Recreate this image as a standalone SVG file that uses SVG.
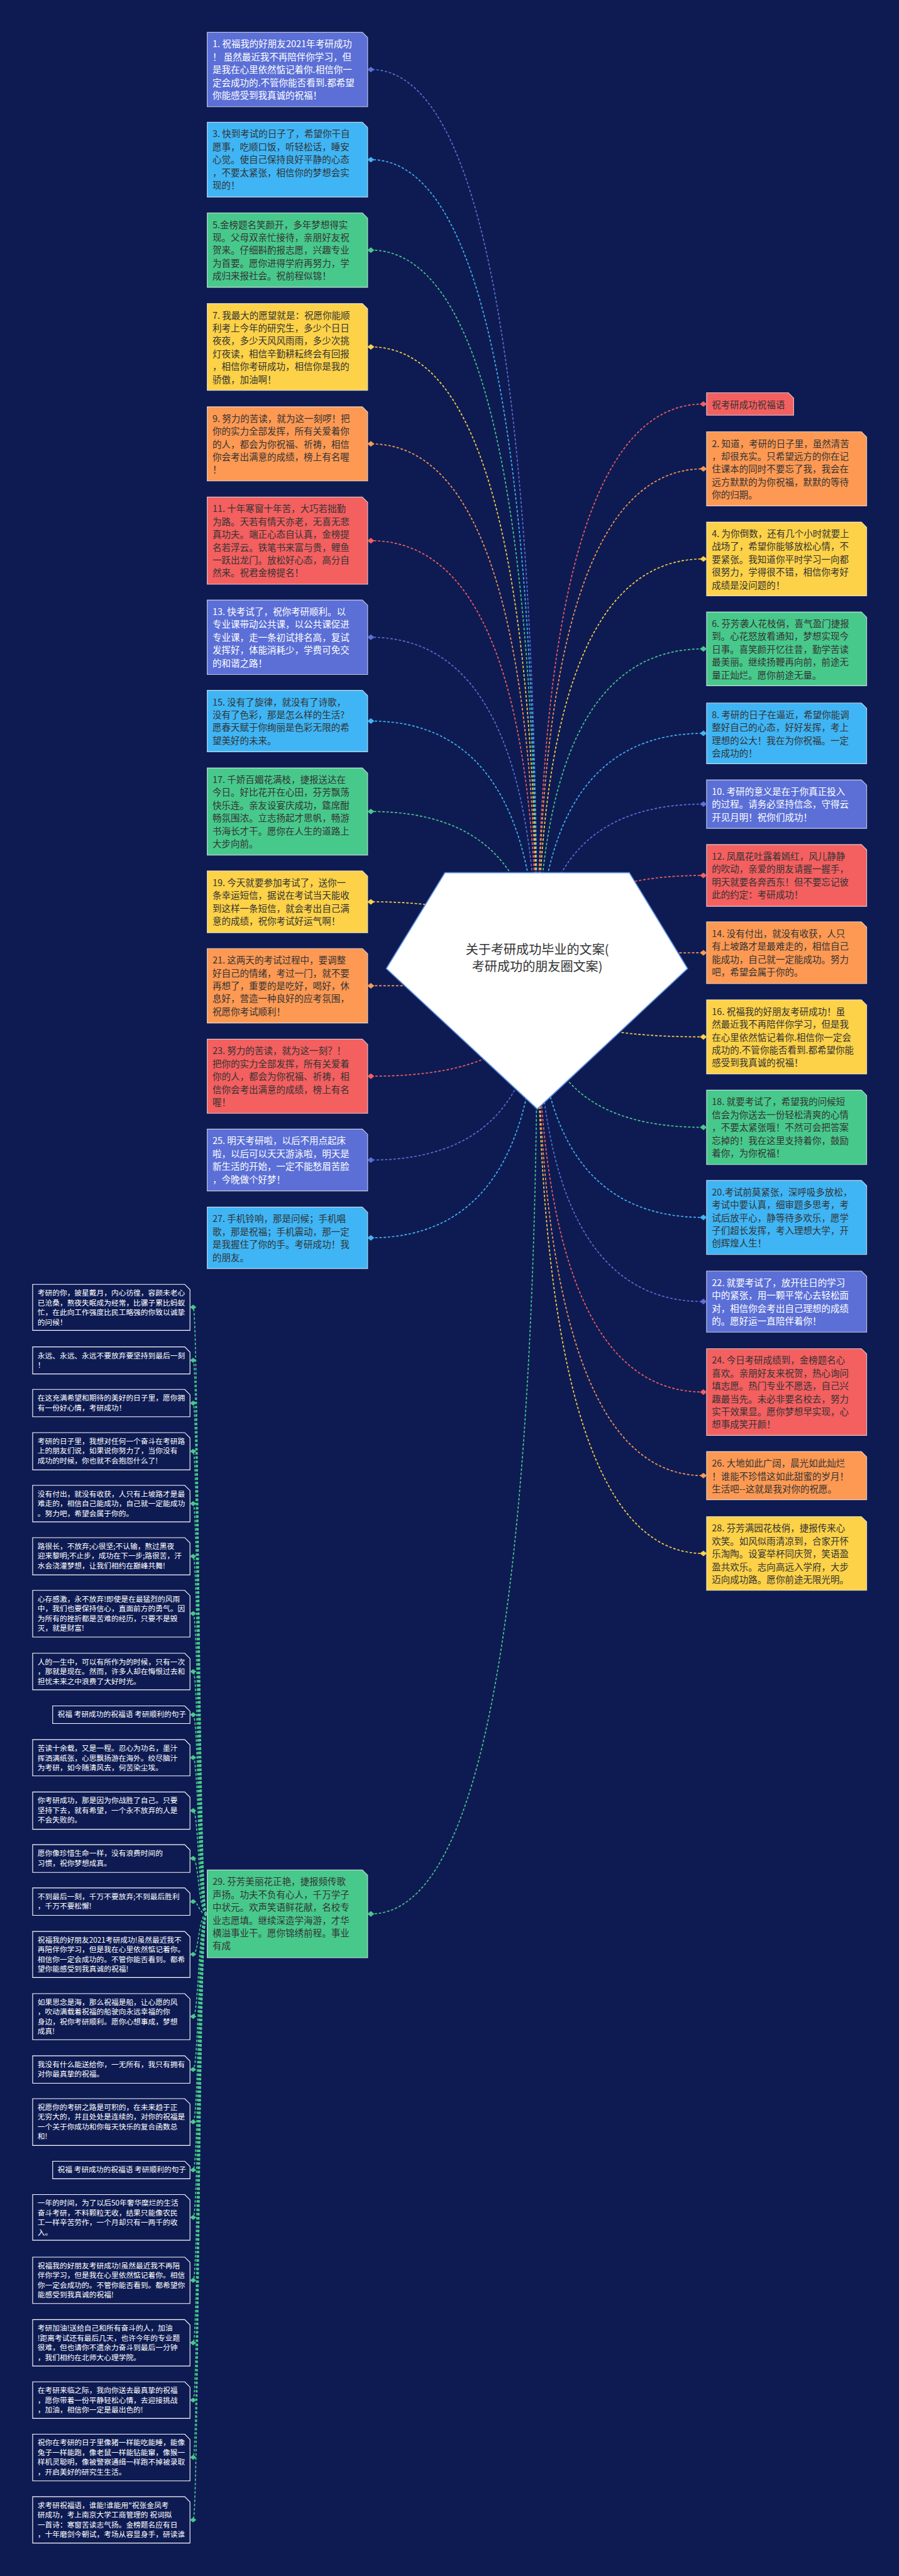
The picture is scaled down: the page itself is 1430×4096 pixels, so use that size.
<svg xmlns="http://www.w3.org/2000/svg" width="1430" height="4096" viewBox="0 0 1430 4096">
<style>
.t{font-family:"Noto Sans CJK SC","Noto Sans CJK JP",sans-serif;font-size:26px}
.s{font-family:"Noto Sans CJK SC","Noto Sans CJK JP",sans-serif;font-size:21px;fill:#fff}
.w{fill:#fff}.d{fill:#333}
.c{fill:none;stroke-width:3;stroke-dasharray:7 5}
.bx{stroke:#fff;stroke-opacity:.7;stroke-width:2}
.lb{fill:#0e1b52;stroke:#fff;stroke-width:2}
.I{fill:#5b6fd6}.C{fill:#3fb5f5}.G{fill:#48c98c}.Y{fill:#fdd248}.O{fill:#fd9953}.R{fill:#f45f60}
.cI{stroke:#5b6fd6}.cC{stroke:#3fb5f5}.cG{stroke:#48c98c}.cY{stroke:#fdd248}.cO{stroke:#fd9953}.cR{stroke:#f45f60}
</style>
<defs>
<path id="dm" d="M-10 0L0-8L10 0L0 8Z"/>
<path id="ds" d="M-9 0L0-7L9 0L0 7Z"/>
</defs>
<rect width="1430" height="4096" fill="#0e1b52"/>
<g transform="scale(0.55859375)">
<g id="connectors">
<path class="c cI" d="M1530 2801Q1530 198 1056 198"/>
<path class="c cC" d="M1530 2801Q1530 454.5 1056 454.5"/>
<path class="c cG" d="M1530 2801Q1530 712 1056 712"/>
<path class="c cY" d="M1530 2801Q1530 987.5 1056 987.5"/>
<path class="c cO" d="M1530 2801Q1530 1263.5 1056 1263.5"/>
<path class="c cR" d="M1530 2801Q1530 1539 1056 1539"/>
<path class="c cI" d="M1530 2801Q1530 1814 1056 1814"/>
<path class="c cC" d="M1530 2801Q1530 2052.5 1056 2052.5"/>
<path class="c cG" d="M1530 2801Q1530 2310 1056 2310"/>
<path class="c cY" d="M1530 2801Q1530 2567 1056 2567"/>
<path class="c cO" d="M1530 2801Q1530 2806 1056 2806"/>
<path class="c cR" d="M1530 2801Q1530 3063.5 1056 3063.5"/>
<path class="c cI" d="M1530 2801Q1530 3302 1056 3302"/>
<path class="c cC" d="M1530 2801Q1530 3523.5 1056 3523.5"/>
<path class="c cG" d="M1530 2801Q1530 5448 1056 5448"/>
<path class="c cR" d="M1530 2801Q1530 1150 2003 1150"/>
<path class="c cO" d="M1530 2801Q1530 1334.5 2003 1334.5"/>
<path class="c cY" d="M1530 2801Q1530 1591 2003 1591"/>
<path class="c cG" d="M1530 2801Q1530 1847 2003 1847"/>
<path class="c cC" d="M1530 2801Q1530 2087.5 2003 2087.5"/>
<path class="c cI" d="M1530 2801Q1530 2289 2003 2289"/>
<path class="c cR" d="M1530 2801Q1530 2492 2003 2492"/>
<path class="c cO" d="M1530 2801Q1530 2712 2003 2712"/>
<path class="c cY" d="M1530 2801Q1530 2951.5 2003 2951.5"/>
<path class="c cG" d="M1530 2801Q1530 3209 2003 3209"/>
<path class="c cC" d="M1530 2801Q1530 3465.5 2003 3465.5"/>
<path class="c cI" d="M1530 2801Q1530 3705 2003 3705"/>
<path class="c cR" d="M1530 2801Q1530 3962.5 2003 3962.5"/>
<path class="c cO" d="M1530 2801Q1530 4200.5 2003 4200.5"/>
<path class="c cY" d="M1530 2801Q1530 4422 2003 4422"/>
<g class="c cG">
<path d="M588 5448C566 5448 566 3721 550 3721"/>
<path d="M588 5448C566 5448 566 3872 550 3872"/>
<path d="M588 5448C566 5448 566 3994 550 3994"/>
<path d="M588 5448C566 5448 566 4131 550 4131"/>
<path d="M588 5448C566 5448 566 4280 550 4280"/>
<path d="M588 5448C566 5448 566 4430 550 4430"/>
<path d="M588 5448C566 5448 566 4593 550 4593"/>
<path d="M588 5448C566 5448 566 4758 550 4758"/>
<path d="M588 5448C566 5448 566 4881 550 4881"/>
<path d="M588 5448C566 5448 566 5003 550 5003"/>
<path d="M588 5448C566 5448 566 5154 550 5154"/>
<path d="M588 5448C566 5448 566 5290 550 5290"/>
<path d="M588 5448C566 5448 566 5413 550 5413"/>
<path d="M588 5448C566 5448 566 5563 550 5563"/>
<path d="M588 5448C566 5448 566 5740 550 5740"/>
<path d="M588 5448C566 5448 566 5891 550 5891"/>
<path d="M588 5448C566 5448 566 6040 550 6040"/>
<path d="M588 5448C566 5448 566 6177 550 6177"/>
<path d="M588 5448C566 5448 566 6312 550 6312"/>
<path d="M588 5448C566 5448 566 6491 550 6491"/>
<path d="M588 5448C566 5448 566 6669 550 6669"/>
<path d="M588 5448C566 5448 566 6832 550 6832"/>
<path d="M588 5448C566 5448 566 6995 550 6995"/>
<path d="M588 5448C566 5448 566 7173 550 7173"/>
</g>
</g>

<g id="center">
<path d="M1267 2484H1792L1958 2757L1530 3157L1100 2757Z" fill="#fff" stroke="#5b8fe0" stroke-width="3"/>
<text x="1530" y="2715" text-anchor="middle" font-family="Noto Sans CJK SC,sans-serif" font-size="36" fill="#333">关于考研成功毕业的文案(</text>
<text x="1530" y="2764" text-anchor="middle" font-family="Noto Sans CJK SC,sans-serif" font-size="36" fill="#333">考研成功的朋友圈文案)</text>
</g>

<!-- left column -->
<g id="n1"><path class="bx I" d="M590 92H1032L1047 107V304H590Z"/><use href="#dm" x="1056" y="198" class="I"/>
<text class="t w"><tspan x="605" y="135">1. 祝福我的好朋友2021年考研成功</tspan><tspan x="605" dy="36.5">！ 虽然最近我不再陪伴你学习，但</tspan><tspan x="605" dy="36.5">是我在心里依然惦记着你.相信你一</tspan><tspan x="605" dy="36.5">定会成功的.不管你能否看到.都希望</tspan><tspan x="605" dy="36.5">你能感受到我真诚的祝福！</tspan></text></g>
<g id="n3"><path class="bx C" d="M590 348H1032L1047 363V561H590Z"/><use href="#dm" x="1056" y="454.5" class="C"/>
<text class="t d"><tspan x="605" y="391">3. 快到考试的日子了，希望你干自</tspan><tspan x="605" dy="36.5">愿事，吃顺口饭，听轻松话，睡安</tspan><tspan x="605" dy="36.5">心觉。使自己保持良好平静的心态</tspan><tspan x="605" dy="36.5">，不要太紧张，相信你的梦想会实</tspan><tspan x="605" dy="36.5">现的！</tspan></text></g>
<g id="n5"><path class="bx G" d="M590 606H1032L1047 621V818H590Z"/><use href="#dm" x="1056" y="712" class="G"/>
<text class="t d"><tspan x="605" y="649">5.金榜题名笑颜开，多年梦想得实</tspan><tspan x="605" dy="36.5">现。父母双亲忙接待，亲朋好友祝</tspan><tspan x="605" dy="36.5">贺来。仔细斟酌报志愿，兴趣专业</tspan><tspan x="605" dy="36.5">为首要。愿你进得学府再努力，学</tspan><tspan x="605" dy="36.5">成归来报社会。祝前程似锦！</tspan></text></g>
<g id="n7"><path class="bx Y" d="M590 864H1032L1047 879V1111H590Z"/><use href="#dm" x="1056" y="987.5" class="Y"/>
<text class="t d"><tspan x="605" y="907">7. 我最大的愿望就是：祝愿你能顺</tspan><tspan x="605" dy="36.5">利考上今年的研究生，多少个日日</tspan><tspan x="605" dy="36.5">夜夜，多少天风风雨雨，多少次挑</tspan><tspan x="605" dy="36.5">灯夜读，相信辛勤耕耘终会有回报</tspan><tspan x="605" dy="36.5">，相信你考研成功，相信你是我的</tspan><tspan x="605" dy="36.5">骄傲，加油啊！</tspan></text></g>
<g id="n9"><path class="bx O" d="M590 1158H1032L1047 1173V1369H590Z"/><use href="#dm" x="1056" y="1263.5" class="O"/>
<text class="t d"><tspan x="605" y="1201">9. 努力的苦读，就为这一刻啰！把</tspan><tspan x="605" dy="36.5">你的实力全部发挥，所有关爱着你</tspan><tspan x="605" dy="36.5">的人，都会为你祝福、祈祷，相信</tspan><tspan x="605" dy="36.5">你会考出满意的成绩，榜上有名喔</tspan><tspan x="605" dy="36.5">！</tspan></text></g>
<g id="n11"><path class="bx R" d="M590 1415H1032L1047 1430V1663H590Z"/><use href="#dm" x="1056" y="1539" class="R"/>
<text class="t d"><tspan x="605" y="1458">11. 十年寒窗十年苦，大巧若拙勤</tspan><tspan x="605" dy="36.5">为路。天若有情天亦老，无喜无悲</tspan><tspan x="605" dy="36.5">真功夫。端正心态自认真，金榜提</tspan><tspan x="605" dy="36.5">名若浮云。铁笔书来富与贵，鲤鱼</tspan><tspan x="605" dy="36.5">一跃出龙门。放松好心态，高分自</tspan><tspan x="605" dy="36.5">然来。祝君金榜提名！</tspan></text></g>
<g id="n13"><path class="bx I" d="M590 1708H1032L1047 1723V1920H590Z"/><use href="#dm" x="1056" y="1814" class="I"/>
<text class="t w"><tspan x="605" y="1751">13. 快考试了，祝你考研顺利。以</tspan><tspan x="605" dy="36.5">专业课带动公共课，以公共课促进</tspan><tspan x="605" dy="36.5">专业课，走一条初试排名高，复试</tspan><tspan x="605" dy="36.5">发挥好，体能消耗少，学费可免交</tspan><tspan x="605" dy="36.5">的和谐之路！</tspan></text></g>
<g id="n15"><path class="bx C" d="M590 1965H1032L1047 1980V2140H590Z"/><use href="#dm" x="1056" y="2052.5" class="C"/>
<text class="t d"><tspan x="605" y="2008">15. 没有了旋律，就没有了诗歌，</tspan><tspan x="605" dy="36.5">没有了色彩，那是怎么样的生活?</tspan><tspan x="605" dy="36.5">愿春天赋于你绚丽是色彩无限的希</tspan><tspan x="605" dy="36.5">望美好的未来。</tspan></text></g>
<g id="n17"><path class="bx G" d="M590 2186H1032L1047 2201V2434H590Z"/><use href="#dm" x="1056" y="2310" class="G"/>
<text class="t d"><tspan x="605" y="2229">17. 千娇百媚花满枝，捷报送达在</tspan><tspan x="605" dy="36.5">今日。好比花开在心田，芬芳飘荡</tspan><tspan x="605" dy="36.5">快乐连。亲友设宴庆成功，筵席酣</tspan><tspan x="605" dy="36.5">畅氛围浓。立志扬起才思帆，畅游</tspan><tspan x="605" dy="36.5">书海长才干。愿你在人生的道路上</tspan><tspan x="605" dy="36.5">大步向前。</tspan></text></g>
<g id="n19"><path class="bx Y" d="M590 2479H1032L1047 2494V2655H590Z"/><use href="#dm" x="1056" y="2567" class="Y"/>
<text class="t d"><tspan x="605" y="2522">19. 今天就要参加考试了，送你一</tspan><tspan x="605" dy="36.5">条幸运短信，据说在考试当天能收</tspan><tspan x="605" dy="36.5">到这样一条短信，就会考出自己满</tspan><tspan x="605" dy="36.5">意的成绩，祝你考试好运气啊！</tspan></text></g>
<g id="n21"><path class="bx O" d="M590 2700H1032L1047 2715V2912H590Z"/><use href="#dm" x="1056" y="2806" class="O"/>
<text class="t d"><tspan x="605" y="2743">21. 这两天的考试过程中，要调整</tspan><tspan x="605" dy="36.5">好自己的情绪，考过一门，就不要</tspan><tspan x="605" dy="36.5">再想了，重要的是吃好，喝好，休</tspan><tspan x="605" dy="36.5">息好，营造一种良好的应考氛围，</tspan><tspan x="605" dy="36.5">祝愿你考试顺利！</tspan></text></g>
<g id="n23"><path class="bx R" d="M590 2958H1032L1047 2973V3169H590Z"/><use href="#dm" x="1056" y="3063.5" class="R"/>
<text class="t d"><tspan x="605" y="3001">23. 努力的苦读，就为这一刻？！</tspan><tspan x="605" dy="36.5">把你的实力全部发挥，所有关爱着</tspan><tspan x="605" dy="36.5">你的人，都会为你祝福、祈祷，相</tspan><tspan x="605" dy="36.5">信你会考出满意的成绩，榜上有名</tspan><tspan x="605" dy="36.5">喔！</tspan></text></g>
<g id="n25"><path class="bx I" d="M590 3214H1032L1047 3229V3390H590Z"/><use href="#dm" x="1056" y="3302" class="I"/>
<text class="t w"><tspan x="605" y="3257">25. 明天考研啦，以后不用点起床</tspan><tspan x="605" dy="36.5">啦，以后可以天天游泳啦，明天是</tspan><tspan x="605" dy="36.5">新生活的开始，一定不能愁眉苦脸</tspan><tspan x="605" dy="36.5">，今晚做个好梦！</tspan></text></g>
<g id="n27"><path class="bx C" d="M590 3436H1032L1047 3451V3611H590Z"/><use href="#dm" x="1056" y="3523.5" class="C"/>
<text class="t d"><tspan x="605" y="3479">27. 手机铃响，那是问候；手机唱</tspan><tspan x="605" dy="36.5">歌，那是祝福；手机震动，那一定</tspan><tspan x="605" dy="36.5">是我握住了你的手。考研成功！我</tspan><tspan x="605" dy="36.5">的朋友。</tspan></text></g>
<g id="n29"><path class="bx G" d="M590 5323H1032L1047 5338V5573H590Z"/><use href="#dm" x="1056" y="5448" class="G"/>
<path d="M584 5448H590" stroke="#48c98c" stroke-width="3"/>
<text class="t d"><tspan x="605" y="5366">29. 芬芳美丽花正艳，捷报频传歌</tspan><tspan x="605" dy="36.5">声扬。功夫不负有心人，千万学子</tspan><tspan x="605" dy="36.5">中状元。欢声笑语鲜花献，名校专</tspan><tspan x="605" dy="36.5">业志愿填。继续深造学海游，才华</tspan><tspan x="605" dy="36.5">横溢事业干。愿你锦绣前程。事业</tspan><tspan x="605" dy="36.5">有成</tspan></text></g>

<!-- right column -->
<g id="n0"><path class="bx R" d="M2012 1118H2245L2260 1133V1182H2012Z"/><use href="#dm" x="2003" y="1150" class="R"/>
<text class="t d" x="2027" y="1161">祝考研成功祝福语</text></g>
<g id="n2"><path class="bx O" d="M2012 1229H2453L2468 1244V1440H2012Z"/><use href="#dm" x="2003" y="1334.5" class="O"/>
<text class="t d"><tspan x="2027" y="1272">2. 知道，考研的日子里，虽然清苦</tspan><tspan x="2027" dy="36.5">，却很充实。只希望远方的你在记</tspan><tspan x="2027" dy="36.5">住课本的同时不要忘了我，我会在</tspan><tspan x="2027" dy="36.5">远方默默的为你祝福，默默的等待</tspan><tspan x="2027" dy="36.5">你的归期。</tspan></text></g>
<g id="n4"><path class="bx Y" d="M2012 1486H2453L2468 1501V1696H2012Z"/><use href="#dm" x="2003" y="1591" class="Y"/>
<text class="t d"><tspan x="2027" y="1529">4. 为你倒数，还有几个小时就要上</tspan><tspan x="2027" dy="36.5">战场了，希望你能够放松心情，不</tspan><tspan x="2027" dy="36.5">要紧张。我知道你平时学习一向都</tspan><tspan x="2027" dy="36.5">很努力，学得很不错，相信你考好</tspan><tspan x="2027" dy="36.5">成绩是没问题的！</tspan></text></g>
<g id="n6"><path class="bx G" d="M2012 1742H2453L2468 1757V1952H2012Z"/><use href="#dm" x="2003" y="1847" class="G"/>
<text class="t d"><tspan x="2027" y="1785">6. 芬芳袭人花枝俏，喜气盈门捷报</tspan><tspan x="2027" dy="36.5">到。心花怒放看通知，梦想实现今</tspan><tspan x="2027" dy="36.5">日事。喜笑颜开忆往昔，勤学苦读</tspan><tspan x="2027" dy="36.5">最美丽。继续扬鞭再向前，前途无</tspan><tspan x="2027" dy="36.5">量正灿烂。愿你前途无量。</tspan></text></g>
<g id="n8"><path class="bx C" d="M2012 2001H2453L2468 2016V2174H2012Z"/><use href="#dm" x="2003" y="2087.5" class="C"/>
<text class="t d"><tspan x="2027" y="2044">8. 考研的日子在逼近，希望你能调</tspan><tspan x="2027" dy="36.5">整好自己的心态，好好发挥，考上</tspan><tspan x="2027" dy="36.5">理想的公大！我在为你祝福。一定</tspan><tspan x="2027" dy="36.5">会成功的！</tspan></text></g>
<g id="n10"><path class="bx I" d="M2012 2220H2453L2468 2235V2358H2012Z"/><use href="#dm" x="2003" y="2289" class="I"/>
<text class="t w"><tspan x="2027" y="2263">10. 考研的意义是在于你真正投入</tspan><tspan x="2027" dy="36.5">的过程。请务必坚持信念，守得云</tspan><tspan x="2027" dy="36.5">开见月明！祝你们成功！</tspan></text></g>
<g id="n12"><path class="bx R" d="M2012 2404H2453L2468 2419V2580H2012Z"/><use href="#dm" x="2003" y="2492" class="R"/>
<text class="t d"><tspan x="2027" y="2447">12. 凤凰花吐露着嫣红，风儿静静</tspan><tspan x="2027" dy="36.5">的吹动，亲爱的朋友请握一握手，</tspan><tspan x="2027" dy="36.5">明天就要各奔西东！但不要忘记彼</tspan><tspan x="2027" dy="36.5">此的约定：考研成功！</tspan></text></g>
<g id="n14"><path class="bx O" d="M2012 2624H2453L2468 2639V2800H2012Z"/><use href="#dm" x="2003" y="2712" class="O"/>
<text class="t d"><tspan x="2027" y="2667">14. 没有付出，就没有收获，人只</tspan><tspan x="2027" dy="36.5">有上坡路才是最难走的，相信自己</tspan><tspan x="2027" dy="36.5">能成功，自己就一定能成功。努力</tspan><tspan x="2027" dy="36.5">吧，希望会属于你的。</tspan></text></g>
<g id="n16"><path class="bx Y" d="M2012 2846H2453L2468 2861V3057H2012Z"/><use href="#dm" x="2003" y="2951.5" class="Y"/>
<text class="t d"><tspan x="2027" y="2889">16. 祝福我的好朋友考研成功！虽</tspan><tspan x="2027" dy="36.5">然最近我不再陪伴你学习，但是我</tspan><tspan x="2027" dy="36.5">在心里依然惦记着你.相信你一定会</tspan><tspan x="2027" dy="36.5">成功的.不管你能否看到.都希望你能</tspan><tspan x="2027" dy="36.5">感受到我真诚的祝福！</tspan></text></g>
<g id="n18"><path class="bx G" d="M2012 3103H2453L2468 3118V3315H2012Z"/><use href="#dm" x="2003" y="3209" class="G"/>
<text class="t d"><tspan x="2027" y="3146">18. 就要考试了，希望我的问候短</tspan><tspan x="2027" dy="36.5">信会为你送去一份轻松清爽的心情</tspan><tspan x="2027" dy="36.5">，不要太紧张哦！不然可会把答案</tspan><tspan x="2027" dy="36.5">忘掉的！我在这里支持着你，鼓励</tspan><tspan x="2027" dy="36.5">着你，为你祝福！</tspan></text></g>
<g id="n20"><path class="bx C" d="M2012 3360H2453L2468 3375V3571H2012Z"/><use href="#dm" x="2003" y="3465.5" class="C"/>
<text class="t d"><tspan x="2027" y="3403">20.考试前莫紧张，深呼吸多放松，</tspan><tspan x="2027" dy="36.5">考试中要认真，细审题多思考，考</tspan><tspan x="2027" dy="36.5">试后放平心，静等待多欢乐，愿学</tspan><tspan x="2027" dy="36.5">子们超长发挥，考入理想大学，开</tspan><tspan x="2027" dy="36.5">创辉煌人生！</tspan></text></g>
<g id="n22"><path class="bx I" d="M2012 3618H2453L2468 3633V3792H2012Z"/><use href="#dm" x="2003" y="3705" class="I"/>
<text class="t w"><tspan x="2027" y="3661">22. 就要考试了，放开往日的学习</tspan><tspan x="2027" dy="36.5">中的紧张，用一颗平常心去轻松面</tspan><tspan x="2027" dy="36.5">对，相信你会考出自己理想的成绩</tspan><tspan x="2027" dy="36.5">的。愿好运一直陪伴着你！</tspan></text></g>
<g id="n24"><path class="bx R" d="M2012 3839H2453L2468 3854V4086H2012Z"/><use href="#dm" x="2003" y="3962.5" class="R"/>
<text class="t d"><tspan x="2027" y="3882">24. 今日考研成绩到，金榜题名心</tspan><tspan x="2027" dy="36.5">喜欢。亲朋好友来祝贺，热心询问</tspan><tspan x="2027" dy="36.5">填志愿。热门专业不愿选，自己兴</tspan><tspan x="2027" dy="36.5">趣最当先。未必非要名校去，努力</tspan><tspan x="2027" dy="36.5">实干效果显。愿你梦想早实现，心</tspan><tspan x="2027" dy="36.5">想事成笑开颜！</tspan></text></g>
<g id="n26"><path class="bx O" d="M2012 4132H2453L2468 4147V4269H2012Z"/><use href="#dm" x="2003" y="4200.5" class="O"/>
<text class="t d"><tspan x="2027" y="4175">26. 大地如此广阔，晨光如此灿烂</tspan><tspan x="2027" dy="36.5">！谁能不珍惜这如此甜蜜的岁月！</tspan><tspan x="2027" dy="36.5">生活吧--这就是我对你的祝愿。</tspan></text></g>
<g id="n28"><path class="bx Y" d="M2012 4317H2453L2468 4332V4527H2012Z"/><use href="#dm" x="2003" y="4422" class="Y"/>
<text class="t d"><tspan x="2027" y="4360">28. 芬芳满园花枝俏，捷报传来心</tspan><tspan x="2027" dy="36.5">欢笑。如风似雨清凉到，合家开怀</tspan><tspan x="2027" dy="36.5">乐淘陶。设宴举杯同庆贺，笑语盈</tspan><tspan x="2027" dy="36.5">盈共欢乐。志向高远入学府，大步</tspan><tspan x="2027" dy="36.5">迈向成功路。愿你前途无限光明。</tspan></text></g>

<!-- children of 29 -->
<g id="b1"><path class="lb" d="M93 3656H526L541 3671V3787H93Z"/><use href="#ds" x="550" y="3721" class="G"/>
<text class="s"><tspan x="107" y="3688">考研的你，披星戴月，内心彷徨，容颜未老心</tspan><tspan x="107" dy="27.7">已沧桑，熬夜失眠成为经常，比骡子累比蚂蚁</tspan><tspan x="107" dy="27.7">忙，在此向工作强度比民工略强的你致以诚挚</tspan><tspan x="107" dy="27.7">的问候！</tspan></text></g>
<g id="b2"><path class="lb" d="M93 3834H526L541 3849V3911H93Z"/><use href="#ds" x="550" y="3872" class="G"/>
<text class="s"><tspan x="107" y="3866">永远、永远、永远不要放弃要坚持到最后一刻</tspan><tspan x="107" dy="27.7">！</tspan></text></g>
<g id="b3"><path class="lb" d="M93 3955H526L541 3970V4033H93Z"/><use href="#ds" x="550" y="3994" class="G"/>
<text class="s"><tspan x="107" y="3987">在这充满希望和期待的美好的日子里，愿你拥</tspan><tspan x="107" dy="27.7">有一份好心情，考研成功！</tspan></text></g>
<g id="b4"><path class="lb" d="M93 4078H526L541 4093V4184H93Z"/><use href="#ds" x="550" y="4131" class="G"/>
<text class="s"><tspan x="107" y="4110">考研的日子里，我想对任何一个奋斗在考研路</tspan><tspan x="107" dy="27.7">上的朋友们说，如果说你努力了，当你没有</tspan><tspan x="107" dy="27.7">成功的时候，你也就不会抱怨什么了!</tspan></text></g>
<g id="b5"><path class="lb" d="M93 4228H526L541 4243V4332H93Z"/><use href="#ds" x="550" y="4280" class="G"/>
<text class="s"><tspan x="107" y="4260">没有付出，就没有收获，人只有上坡路才是最</tspan><tspan x="107" dy="27.7">难走的，相信自己能成功，自己就一定能成功</tspan><tspan x="107" dy="27.7">。努力吧，希望会属于你的。</tspan></text></g>
<g id="b6"><path class="lb" d="M93 4377H526L541 4392V4483H93Z"/><use href="#ds" x="550" y="4430" class="G"/>
<text class="s"><tspan x="107" y="4409">路很长，不放弃;心很坚;不认输，熬过黑夜</tspan><tspan x="107" dy="27.7">迎来黎明;不止步，成功在下一步;路很苦，汗</tspan><tspan x="107" dy="27.7">水会浇灌梦想，让我们相约在巅峰共舞!</tspan></text></g>
<g id="b7"><path class="lb" d="M93 4527H526L541 4542V4660H93Z"/><use href="#ds" x="550" y="4593" class="G"/>
<text class="s"><tspan x="107" y="4559">心存感激，永不放弃!即使是在最猛烈的风雨</tspan><tspan x="107" dy="27.7">中，我们也要保持信心，直面前方的勇气。因</tspan><tspan x="107" dy="27.7">为所有的挫折都是苦难的经历，只要不是毁</tspan><tspan x="107" dy="27.7">灭，就是财富!</tspan></text></g>
<g id="b8"><path class="lb" d="M93 4706H526L541 4721V4810H93Z"/><use href="#ds" x="550" y="4758" class="G"/>
<text class="s"><tspan x="107" y="4738">人的一生中，可以有所作为的时候，只有一次</tspan><tspan x="107" dy="27.7">，那就是现在。然而，许多人却在悔恨过去和</tspan><tspan x="107" dy="27.7">担忧未来之中浪费了大好时光。</tspan></text></g>
<g id="b9"><path class="lb" d="M150 4856H526L541 4871V4906H150Z"/><use href="#ds" x="550" y="4881" class="G"/>
<text class="s" x="164" y="4888">祝福 考研成功的祝福语 考研顺利的句子</text></g>
<g id="b10"><path class="lb" d="M93 4952H526L541 4967V5055H93Z"/><use href="#ds" x="550" y="5003" class="G"/>
<text class="s"><tspan x="107" y="4984">苦读十余载，又是一程。忍心为功名，墨汁</tspan><tspan x="107" dy="27.7">挥洒满纸张，心思飘扬游在海外。绞尽脑汁</tspan><tspan x="107" dy="27.7">为考研，如今随清风去，何苦染尘埃。</tspan></text></g>
<g id="b11"><path class="lb" d="M93 5101H526L541 5116V5207H93Z"/><use href="#ds" x="550" y="5154" class="G"/>
<text class="s"><tspan x="107" y="5133">你考研成功，那是因为你战胜了自己。只要</tspan><tspan x="107" dy="27.7">坚持下去，就有希望，一个永不放弃的人是</tspan><tspan x="107" dy="27.7">不会失败的。</tspan></text></g>
<g id="b12"><path class="lb" d="M93 5251H526L541 5266V5330H93Z"/><use href="#ds" x="550" y="5290" class="G"/>
<text class="s"><tspan x="107" y="5283">愿你像珍惜生命一样，没有浪费时间的</tspan><tspan x="107" dy="27.7">习惯，祝你梦想成真。</tspan></text></g>
<g id="b13"><path class="lb" d="M93 5374H526L541 5389V5452H93Z"/><use href="#ds" x="550" y="5413" class="G"/>
<text class="s"><tspan x="107" y="5406">不到最后一刻，千万不要放弃;不到最后胜利</tspan><tspan x="107" dy="27.7">，千万不要松懈!</tspan></text></g>
<g id="b14"><path class="lb" d="M93 5498H526L541 5513V5629H93Z"/><use href="#ds" x="550" y="5563" class="G"/>
<text class="s"><tspan x="107" y="5530">祝福我的好朋友2021考研成功!虽然最近我不</tspan><tspan x="107" dy="27.7">再陪伴你学习，但是我在心里依然惦记着你。</tspan><tspan x="107" dy="27.7">相信你一定会成功的。不管你能否看到。都希</tspan><tspan x="107" dy="27.7">望你能感受到我真诚的祝福!</tspan></text></g>
<g id="b15"><path class="lb" d="M93 5675H526L541 5690V5806H93Z"/><use href="#ds" x="550" y="5740" class="G"/>
<text class="s"><tspan x="107" y="5707">如果思念是海，那么祝福是船，让心愿的风</tspan><tspan x="107" dy="27.7">，吹动满载着祝福的船驶向永远幸福的你</tspan><tspan x="107" dy="27.7">身边，祝你考研顺利。愿你心想事成，梦想</tspan><tspan x="107" dy="27.7">成真!</tspan></text></g>
<g id="b16"><path class="lb" d="M93 5852H526L541 5867V5930H93Z"/><use href="#ds" x="550" y="5891" class="G"/>
<text class="s"><tspan x="107" y="5884">我没有什么能送给你，一无所有，我只有拥有</tspan><tspan x="107" dy="27.7">对你最真挚的祝福。</tspan></text></g>
<g id="b17"><path class="lb" d="M93 5974H526L541 5989V6107H93Z"/><use href="#ds" x="550" y="6040" class="G"/>
<text class="s"><tspan x="107" y="6006">祝愿你的考研之路是可积的，在未来趋于正</tspan><tspan x="107" dy="27.7">无穷大的，并且处处是连续的，对你的祝福是</tspan><tspan x="107" dy="27.7">一个关于你成功和你每天快乐的复合函数总</tspan><tspan x="107" dy="27.7">和!</tspan></text></g>
<g id="b18"><path class="lb" d="M150 6152H526L541 6167V6202H150Z"/><use href="#ds" x="550" y="6177" class="G"/>
<text class="s" x="164" y="6184">祝福 考研成功的祝福语 考研顺利的句子</text></g>
<g id="b19"><path class="lb" d="M93 6247H526L541 6262V6377H93Z"/><use href="#ds" x="550" y="6312" class="G"/>
<text class="s"><tspan x="107" y="6279">一年的时间，为了以后50年奢华糜烂的生活</tspan><tspan x="107" dy="27.7">奋斗考研，不料颗粒无收，结果只能像农民</tspan><tspan x="107" dy="27.7">工一样辛苦劳作，一个月却只有一两千的收</tspan><tspan x="107" dy="27.7">入。</tspan></text></g>
<g id="b20"><path class="lb" d="M93 6425H526L541 6440V6557H93Z"/><use href="#ds" x="550" y="6491" class="G"/>
<text class="s"><tspan x="107" y="6457">祝福我的好朋友考研成功!虽然最近我不再陪</tspan><tspan x="107" dy="27.7">伴你学习，但是我在心里依然惦记着你。相信</tspan><tspan x="107" dy="27.7">你一定会成功的。不管你能否看到。都希望你</tspan><tspan x="107" dy="27.7">能感受到我真诚的祝福!</tspan></text></g>
<g id="b21"><path class="lb" d="M93 6603H526L541 6618V6735H93Z"/><use href="#ds" x="550" y="6669" class="G"/>
<text class="s"><tspan x="107" y="6635">考研加油!送给自己和所有奋斗的人，加油</tspan><tspan x="107" dy="27.7">!距离考试还有最后几天，也许今年的专业题</tspan><tspan x="107" dy="27.7">很难，但也请你不遗余力奋斗到最后一分钟</tspan><tspan x="107" dy="27.7">，我们相约在北师大心理学院。</tspan></text></g>
<g id="b22"><path class="lb" d="M93 6780H526L541 6795V6884H93Z"/><use href="#ds" x="550" y="6832" class="G"/>
<text class="s"><tspan x="107" y="6812">在考研来临之际，我向你送去最真挚的祝福</tspan><tspan x="107" dy="27.7">，愿你带着一份平静轻松心情，去迎接挑战</tspan><tspan x="107" dy="27.7">，加油，相信你一定是最出色的!</tspan></text></g>
<g id="b23"><path class="lb" d="M93 6929H526L541 6944V7062H93Z"/><use href="#ds" x="550" y="6995" class="G"/>
<text class="s"><tspan x="107" y="6961">祝你在考研的日子里像猪一样能吃能睡，能像</tspan><tspan x="107" dy="27.7">兔子一样能跑，像老鼠一样能钻能窜，像猴一</tspan><tspan x="107" dy="27.7">样机灵聪明，像被警察通缉一样跑不掉被录取</tspan><tspan x="107" dy="27.7">，开启美好的研究生生活。</tspan></text></g>
<g id="b24"><path class="lb" d="M93 7107H526L541 7122V7239H93Z"/><use href="#ds" x="550" y="7173" class="G"/>
<text class="s"><tspan x="107" y="7139">求考研祝福语，谁能!谁能用"祝张金凤考</tspan><tspan x="107" dy="27.7">研成功，考上南京大学工商管理的 祝词拟</tspan><tspan x="107" dy="27.7">一首诗：寒窗苦读志气扬。金榜题名应有日</tspan><tspan x="107" dy="27.7">，十年磨剑今朝试，考场从容显身手，研读谁</tspan></text></g>
</g>
</svg>
